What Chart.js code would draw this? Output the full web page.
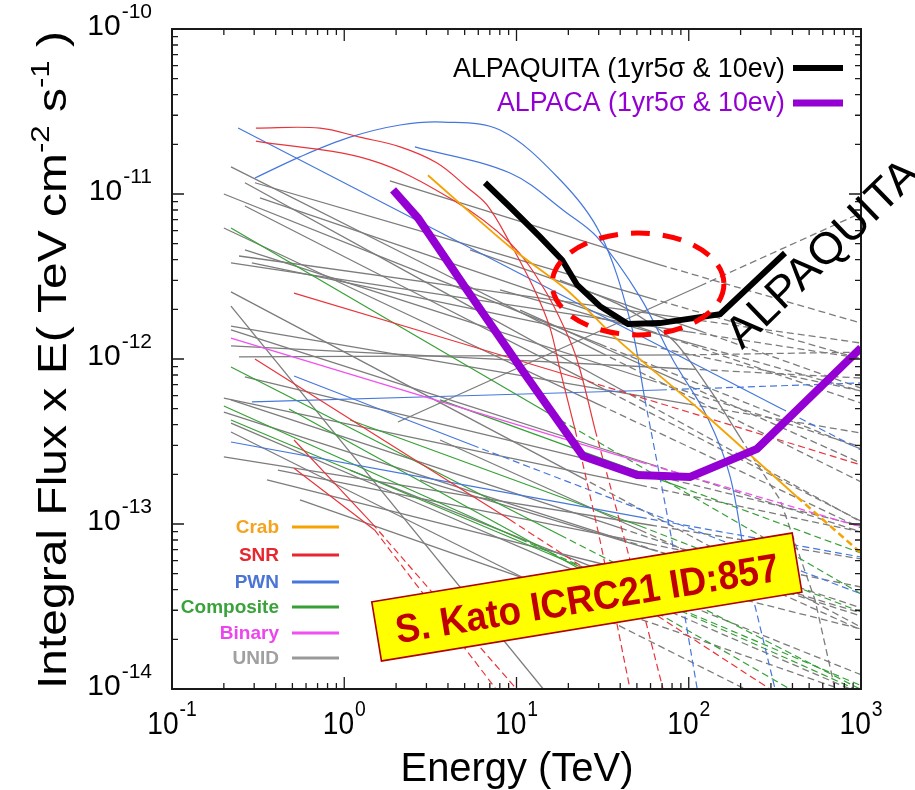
<!DOCTYPE html>
<html><head><meta charset="utf-8">
<script src="https://cdn.jsdelivr.net/npm/chart.js"></script>
<style>html,body{margin:0;padding:0;background:#fff}canvas{display:block}</style>
</head><body>
<canvas id="c" width="915" height="790"></canvas>
<script>
// ---------------- data (Energy in TeV, integral flux x E) ----------------
const xTickExps = [-1, 0, 1, 2, 3];
const yTickExps = [-14, -13, -12, -11, -10];

const alpaquita = [[6.56,1.17e-11],[9.17,8.34e-12],[13.7,5.49e-12],[18.4,3.98e-12],[22.5,2.81e-12],[30.5,2.09e-12],[44.4,1.63e-12],[68,1.65e-12],[152,1.87e-12],[362,4.39e-12]];
const alpaca = [[1.92,1.06e-11],[2.68,7.15e-12],[5.16,2.62e-12],[11.5,7.78e-13],[24.3,2.58e-13],[50.1,1.98e-13],[101.7,1.93e-13],[249,2.85e-13],[1000,1.17e-12]];

const crabSolid = [[[3.06,1.30e-11],[9.17,4.77e-12],[19.6,2.62e-12],[38.3,1.32e-12],[116,4.91e-13],[425,1.46e-13]]];
const crabDashed = [[[425,1.46e-13],[987,6.76e-14]]];

const snrSolid = [
  [[0.307,2.51e-11],[0.723,2.51e-11],[1.23,2.21e-11],[2.11,1.93e-11],[3.46,1.54e-11],[5.16,1.10e-11],[6.74,8.58e-12],[9.17,5.05e-12],[12.5,2.73e-12],[15.6,1.56e-12],[17.9,8.58e-13],[21.9,3.72e-13]],
  [[0.307,2.09e-11],[1.41,1.61e-11],[4.28,9.20e-12],[9.17,5.05e-12],[14.6,2.62e-12],[20.4,1.30e-12],[23.4,8.58e-13],[28.6,3.72e-13]],
  [[0.511,2.51e-12],[22.5,7.67e-13]],
  [[0.303,1.0e-12],[9.17,1.06e-13]],
  [[0.511,3.23e-13],[1.45,1.01e-13]],
  [[0.511,2.18e-13],[1.50,9.2e-14]]
];
const snrDashed = [
  [[21.9,3.72e-13],[30.5,8.0e-14],[45.6,1.0e-14]],
  [[28.6,3.72e-13],[45.6,6.05e-14],[70.9,1.0e-14]],
  [[22.5,7.67e-13],[1000,2.28e-13]],
  [[9.17,1.06e-13],[296,1.0e-14]],
  [[1.45,1.01e-13],[10,1.0e-14]],
  [[1.50,9.2e-14],[7.6,1.0e-14]]
];

const pwnSolid = [
  [[0.242,2.51e-11],[339,5.05e-13]],
  [[0.303,1.25e-11],[0.553,1.68e-11],[1.08,2.21e-11],[2.11,2.62e-11],[3.74,2.73e-11],[8.02,2.44e-11],[17.9,1.22e-11],[30.5,5.80e-12],[45.6,1.72e-12],[55.7,5.65e-13]],
  [[2.57,1.93e-11],[9.17,1.34e-11],[19.6,7.67e-12],[29.3,5.49e-12],[52.1,2.38e-12],[81,9.86e-13],[128,4.45e-13],[174,1.93e-13],[218,5.05e-14]],
  [[0.511,7.89e-13],[5.52,3.01e-13]],
  [[0.291,5.49e-13],[68.1,6.49e-13]],
  [[0.22,3.14e-13],[52.1,1.10e-13]]
];
const pwnDashed = [
  [[339,5.05e-13],[1000,2.81e-13]],
  [[55.7,5.65e-13],[77.8,9.20e-14],[112,1.0e-14]],
  [[218,5.05e-14],[317,1.0e-14]],
  [[5.52,3.01e-13],[1000,3.77e-14]],
  [[68.1,6.49e-13],[1000,7.16e-13]],
  [[52.1,1.10e-13],[1000,6.31e-14]]
];

const compSolid = [
  [[0.22,6.22e-12],[17.9,4.27e-13]],
  [[0.22,8.95e-13],[17.9,8.58e-14]],
  [[0.20,5.19e-13],[10.5,8.11e-14]],
  [[0.478,4.98e-13],[30.5,4.58e-14]],
  [[0.22,4.27e-13],[52.1,3.87e-14]],
  [[1.08,4.27e-13],[52.1,9.73e-14]],
  [[3.60,5.65e-13],[89,1.68e-13]]
];
const compDashed = [
  [[17.9,4.27e-13],[1000,3.77e-14]],
  [[17.9,8.58e-14],[987,1.0e-14]],
  [[10.5,8.11e-14],[923,1.0e-14]],
  [[30.5,4.58e-14],[387,1.0e-14]],
  [[52.1,3.87e-14],[1000,1.05e-14]],
  [[52.1,9.73e-14],[1000,2.93e-14]],
  [[89,1.68e-13],[1000,6.67e-14]]
];

const binSolid = [[[0.22,1.34e-12],[52.1,2.38e-13]]];
const binDashed = [[[52.1,2.38e-13],[1000,9.60e-14]]];

const unidSolid = [
  [[0.22,1.46e-11],[30.5,1.10e-12]],
  [[0.265,1.17e-11],[39.9,6.58e-13]],
  [[0.303,1.17e-11],[59.6,2.34e-12]],
  [[0.20,1.0e-11],[30.5,1.23e-12]],
  [[0.324,9.46e-12],[59.6,1.48e-12]],
  [[0.265,8.46e-12],[30.5,6.76e-13]],
  [[0.20,6.22e-12],[30.5,5.26e-13]],
  [[1.84,1.20e-11],[68.1,3.72e-12]],
  [[0.245,4.21e-12],[100,1.75e-12]],
  [[0.22,3.82e-12],[100,1.46e-12]],
  [[0.265,4.58e-12],[59.6,7.46e-13]],
  [[0.291,3.82e-12],[59.6,1.20e-12]],
  [[0.22,2.55e-12],[23.4,1.93e-13]],
  [[0.22,1.58e-12],[100,5.33e-13]],
  [[0.22,1.50e-12],[59.6,2.31e-13]],
  [[0.22,1.20e-12],[100,8.70e-13]],
  [[0.245,1.03e-12],[100,1.06e-12]],
  [[0.265,7.78e-13],[52.1,2.07e-13]],
  [[0.20,5.80e-13],[52.1,1.72e-13]],
  [[0.22,5.65e-13],[39.9,9.46e-14]],
  [[0.20,4.77e-13],[39.9,8.11e-14]],
  [[0.22,4.09e-13],[23.4,5.05e-14]],
  [[0.22,3.61e-13],[17.9,3.66e-14]],
  [[0.20,2.55e-13],[59.6,9.86e-14]],
  [[0.412,2.12e-13],[59.6,7.57e-14]],
  [[0.356,1.85e-13],[59.6,4.84e-14]],
  [[0.22,2.09e-12],[14.3,1.0e-14]],
  [[2.05,4.15e-13],[116,2.77e-12]],
  [[0.553,1.40e-13],[30.5,3.23e-14]],
  [[1.08,2.12e-13],[39.9,4.71e-14]],
  [[2.75,1.85e-13],[59.6,7.05e-14]],
  [[3.60,3.23e-13],[52.1,9.20e-14]],
  [[5.37,4.58e-12],[116,1.48e-12]],
  [[8.02,2.62e-12],[116,1.20e-12]],
  [[10.5,1.98e-12],[89,7.26e-13]],
  [[17.9,3.01e-12],[39.9,2.12e-12],[81,1.30e-12],[133,6.49e-13],[198,3.37e-13]]
];
const unidDashed = [
  [[30.5,1.10e-12],[1000,1.80e-13]],
  [[39.9,6.58e-13],[1000,1.03e-13]],
  [[59.6,2.34e-12],[1000,1.0e-12]],
  [[30.5,1.23e-12],[1000,2.85e-13]],
  [[59.6,1.48e-12],[1000,5.41e-13]],
  [[30.5,6.76e-13],[1000,1.04e-13]],
  [[30.5,5.26e-13],[1000,9.46e-14]],
  [[68.1,3.72e-12],[1000,1.65e-12]],
  [[100,1.75e-12],[1000,1.25e-12]],
  [[100,1.46e-12],[1000,1.01e-12]],
  [[59.6,7.46e-13],[1000,2.93e-13]],
  [[59.6,1.20e-12],[1000,6.40e-13]],
  [[23.4,1.93e-13],[1000,2.37e-14]],
  [[100,5.33e-13],[1000,3.56e-13]],
  [[59.6,2.31e-13],[1000,8.95e-14]],
  [[100,8.70e-13],[1000,7.67e-13]],
  [[100,1.06e-12],[1000,1.10e-12]],
  [[52.1,2.07e-13],[1000,9.73e-14]],
  [[52.1,1.72e-13],[1000,8.95e-14]],
  [[39.9,9.46e-14],[1000,3.10e-14]],
  [[39.9,8.11e-14],[1000,2.77e-14]],
  [[23.4,5.05e-14],[863,1.0e-14]],
  [[17.9,3.66e-14],[212,1.0e-14]],
  [[59.6,9.86e-14],[1000,6.14e-14]],
  [[59.6,7.57e-14],[1000,4.15e-14]],
  [[59.6,4.84e-14],[1000,2.31e-14]],
  [[116,2.77e-12],[1000,7.67e-12]],
  [[30.5,3.23e-14],[755,1.0e-14]],
  [[39.9,4.71e-14],[1000,1.22e-14]],
  [[59.6,7.05e-14],[1000,2.89e-14]],
  [[52.1,9.20e-14],[1000,2.28e-14]],
  [[116,1.48e-12],[1000,6.67e-13]],
  [[116,1.20e-12],[1000,6.40e-13]],
  [[89,7.26e-13],[1000,2.34e-13]],
  [[198,3.37e-13],[339,1.40e-13],[541,3.46e-14],[706,1.0e-14]]
];

// annotation anchors in data coordinates
const ellipseBox = [16.1, 160, 1.40e-12, 5.8e-12];
const stampCenter = [25.6, 3.61e-14];
const stampText = 'S. Kato ICRC21 ID:857';
const sideLabelAt = [204, 1.13e-12];
const sideLabel = 'ALPAQUITA';
const sensLegend = ['ALPAQUITA (1yr5σ & 10ev)', 'ALPACA (1yr5σ & 10ev)'];
const classLegend = ['Crab', 'SNR', 'PWN', 'Composite', 'Binary', 'UNID'];

// ---------------- styles ----------------
const COL = {crab:'#f5a300', snr:'#e8353b', pwn:'#4677dc', comp:'#36a036', bin:'#f050f0', unid:'#7c7c7c'};
const LEGCOL = ['#f5a31e', '#e8262e', '#4a74d6', '#3aa23a', '#ee44ee', '#a0a0a0'];
const LEGLINE = ['#f5a300', '#e8262e', '#4677dc', '#36a036', '#f050f0', '#999999'];
const DASH = [7, 4];

const datasets = [];
function addSet(lines, color, dashed, width, order, tension) {
  lines.forEach(pts => datasets.push({
    data: pts.map(p => ({x: p[0], y: p[1]})),
    borderColor: color, borderWidth: width, borderDash: dashed ? DASH : [],
    pointRadius: 0, fill: false, tension: tension || 0, order: order
  }));
}
addSet(unidSolid, COL.unid, false, 1.3, 10, 0.25);
addSet(unidDashed, COL.unid, true, 1.3, 10, 0);
addSet(compSolid, COL.comp, false, 1.2, 8);
addSet(compDashed, COL.comp, true, 1.2, 8);
addSet(pwnSolid, COL.pwn, false, 1.2, 7, 0.35);
addSet(pwnDashed, COL.pwn, true, 1.2, 7, 0.2);
addSet(snrSolid, COL.snr, false, 1.2, 6, 0.35);
addSet(snrDashed, COL.snr, true, 1.2, 6, 0.2);
addSet(binSolid, COL.bin, false, 1.3, 5);
addSet(binDashed, COL.bin, true, 1.3, 5);
addSet(crabSolid, COL.crab, false, 1.8, 4, 0.3);
addSet(crabDashed, COL.crab, true, 2.5, 4);
addSet([alpaca], '#9400d3', false, 8, 1);
addSet([alpaquita], '#000000', false, 6, 0);

// ---------------- drawing helpers ----------------
const SANS = '"Liberation Sans", Arial, Helvetica, sans-serif';
function fitText(ctx, text, x, y, font, color, width, align) {
  ctx.save();
  ctx.font = font; ctx.fillStyle = color; ctx.textBaseline = 'alphabetic'; ctx.textAlign = 'left';
  const w = ctx.measureText(text).width;
  const sx = width ? width / w : 1;
  ctx.translate(x, y); ctx.scale(sx, 1);
  const off = align === 'right' ? -w : align === 'center' ? -w / 2 : 0;
  ctx.fillText(text, off, 0);
  ctx.restore();
}
function powLabel(ctx, exp, x, y, size, supSize, align, sx) {
  ctx.save();
  ctx.fillStyle = '#000'; ctx.textAlign = 'left'; ctx.textBaseline = 'alphabetic';
  ctx.font = size + 'px ' + SANS; const w1 = ctx.measureText('10').width;
  ctx.font = supSize + 'px ' + SANS; const w2 = ctx.measureText(String(exp)).width;
  const tot = (w1 + 1 + w2) * sx;
  let start = align === 'right' ? x - tot : x - tot / 2;
  ctx.translate(start, 0); ctx.scale(sx, 1);
  ctx.font = size + 'px ' + SANS; ctx.fillText('10', 0, y + size * 0.36);
  ctx.font = supSize + 'px ' + SANS; ctx.fillText(String(exp), w1 + 1, y - size * 0.2);
  ctx.restore();
}

const deco = {
  id: 'deco',
  beforeDraw(chart) {
    const c = chart.ctx; c.save(); c.fillStyle = '#fff'; c.fillRect(0, 0, chart.width, chart.height); c.restore();
  },
  afterDraw(chart) {
    const ctx = chart.ctx, a = chart.chartArea, X = chart.scales.x, Y = chart.scales.y;
    // red dashed ellipse
    const ex0 = X.getPixelForValue(ellipseBox[0]), ex1 = X.getPixelForValue(ellipseBox[1]);
    const ey0 = Y.getPixelForValue(ellipseBox[3]), ey1 = Y.getPixelForValue(ellipseBox[2]);
    ctx.save();
    ctx.strokeStyle = '#ff0000'; ctx.lineWidth = 5; ctx.setLineDash([19, 13]);
    ctx.beginPath();
    ctx.ellipse((ex0 + ex1) / 2, (ey0 + ey1) / 2, (ex1 - ex0) / 2, (ey1 - ey0) / 2, 0, 0, Math.PI * 2);
    ctx.stroke();
    ctx.restore();

    // frame
    ctx.save();
    ctx.beginPath(); ctx.rect(a.left, a.top, a.right - a.left, a.bottom - a.top);
    ctx.strokeStyle = '#1a1a1a'; ctx.lineWidth = 2; ctx.stroke();
    // ticks (inward, all four sides)
    ctx.lineWidth = 1.3; ctx.beginPath();
    for (let e = xTickExps[0]; e <= xTickExps[xTickExps.length - 1]; e++) {
      for (let m = 1; m < 10; m++) {
        if (e === xTickExps[xTickExps.length - 1] && m > 1) break;
        const px = X.getPixelForValue(m * Math.pow(10, e));
        const L = m === 1 ? 12 : 6;
        ctx.moveTo(px, a.bottom); ctx.lineTo(px, a.bottom - L);
        ctx.moveTo(px, a.top); ctx.lineTo(px, a.top + L);
      }
    }
    for (let e = yTickExps[0]; e <= yTickExps[yTickExps.length - 1]; e++) {
      for (let m = 1; m < 10; m++) {
        if (e === yTickExps[yTickExps.length - 1] && m > 1) break;
        const py = Y.getPixelForValue(m * Math.pow(10, e));
        const L = m === 1 ? 12 : 6;
        ctx.moveTo(a.left, py); ctx.lineTo(a.left + L, py);
        ctx.moveTo(a.right, py); ctx.lineTo(a.right - L, py);
      }
    }
    ctx.stroke();
    ctx.restore();

    // tick labels
    xTickExps.forEach(e => powLabel(ctx, e, X.getPixelForValue(Math.pow(10, e)), 722, 32, 22, 'center', 0.88));
    yTickExps.forEach(e => powLabel(ctx, e, 152, Y.getPixelForValue(Math.pow(10, e)) - 5, 30, 21, 'right', 1));

    // axis titles
    fitText(ctx, 'Energy (TeV)', 517, 781, '40px ' + SANS, '#000', 233, 'center');
    ctx.save();
    ctx.translate(66, 689); ctx.rotate(-Math.PI / 2);
    ctx.fillStyle = '#000';
    const parts = [['Integral Flux x E( TeV cm', 40, 0], ['-2', 26, -17], [' s', 40, 0], ['-1', 26, -17], [' )', 40, 0]];
    let tw = 0;
    parts.forEach(p => { ctx.font = p[1] + 'px ' + SANS; tw += ctx.measureText(p[0]).width; });
    const sxT = 658 / tw;
    ctx.scale(sxT, 1);
    let cx = 0;
    parts.forEach(p => { ctx.font = p[1] + 'px ' + SANS; ctx.fillText(p[0], cx, p[2]); cx += ctx.measureText(p[0]).width; });
    ctx.restore();

    // sensitivity legend (top right)
    fitText(ctx, sensLegend[0], 785, 77, '27px ' + SANS, '#000', 332, 'right');
    fitText(ctx, sensLegend[1], 785, 111, '27px ' + SANS, '#9400d3', 288, 'right');
    ctx.save();
    ctx.lineWidth = 6; ctx.strokeStyle = '#000';
    ctx.beginPath(); ctx.moveTo(793, 68); ctx.lineTo(843, 68); ctx.stroke();
    ctx.lineWidth = 7; ctx.strokeStyle = '#9400d3';
    ctx.beginPath(); ctx.moveTo(793, 103); ctx.lineTo(843, 103); ctx.stroke();
    ctx.restore();

    // class legend (lower left)
    const ly = [527, 555, 582, 607, 633, 658];
    classLegend.forEach((t, i) => {
      ctx.save();
      ctx.font = 'bold 19px ' + SANS; ctx.fillStyle = LEGCOL[i]; ctx.textAlign = 'right'; ctx.textBaseline = 'middle';
      ctx.fillText(t, 279, ly[i] + 1);
      ctx.strokeStyle = LEGLINE[i]; ctx.lineWidth = 3;
      ctx.beginPath(); ctx.moveTo(292, ly[i]); ctx.lineTo(339, ly[i]); ctx.stroke();
      ctx.restore();
    });

    // rotated side label
    ctx.save();
    ctx.translate(X.getPixelForValue(sideLabelAt[0]), Y.getPixelForValue(sideLabelAt[1]));
    ctx.rotate(-44 * Math.PI / 180);
    fitText(ctx, sideLabel, 0, 0, '44px ' + SANS, '#000', 250, 'left');
    ctx.restore();

    // yellow stamp
    ctx.save();
    ctx.translate(X.getPixelForValue(stampCenter[0]), Y.getPixelForValue(stampCenter[1]));
    ctx.rotate(-9.3 * Math.PI / 180);
    ctx.fillStyle = '#ffff00'; ctx.strokeStyle = '#b00000'; ctx.lineWidth = 1.6;
    ctx.fillRect(-213, -30, 426, 60); ctx.strokeRect(-213, -30, 426, 60);
    fitText(ctx, stampText, 0, 15, 'bold 40px ' + SANS, '#c00000', 388, 'center');
    ctx.restore();
  }
};

new Chart(document.getElementById('c'), {
  type: 'line',
  data: {datasets},
  options: {
    responsive: false, animation: false, devicePixelRatio: 1,
    layout: {padding: {left: 0, right: 54, top: 29, bottom: 0}},
    plugins: {legend: {display: false}, tooltip: {enabled: false}, title: {display: false}},
    scales: {
      x: {type: 'logarithmic', min: 0.1, max: 1000,
          ticks: {display: false}, grid: {display: false}, border: {display: false},
          afterFit: s => { s.height = 101; }},
      y: {type: 'logarithmic', min: 1e-14, max: 1e-10,
          ticks: {display: false}, grid: {display: false}, border: {display: false},
          afterFit: s => { s.width = 172; }}
    }
  },
  plugins: [deco]
});
</script>
</body></html>
